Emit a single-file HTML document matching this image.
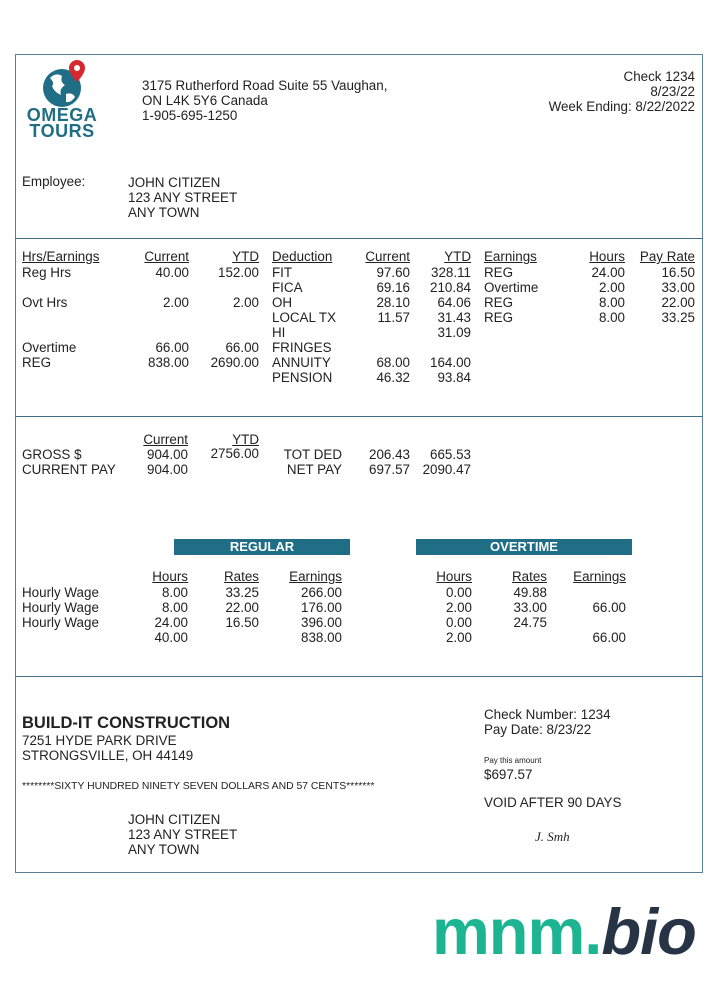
<!DOCTYPE html>
<html><head><meta charset="utf-8"><style>
body{margin:0;width:720px;height:1000px;background:#fff;position:relative;font-family:"Liberation Sans",sans-serif;font-size:13.4px;color:#222;overflow:hidden}
.t{position:absolute;white-space:nowrap;line-height:14px}
.r{transform:translateX(-100%)}
.u{text-decoration:underline}
.b{font-weight:bold}
.box{position:absolute;left:15px;top:54px;width:686px;height:817px;border:1.5px solid #5a7f95}
.hl{position:absolute;left:15px;width:688px;height:0;border-top:1.5px solid #3f6e86}
.bar{position:absolute;height:16px;background:#1f6e86;color:#fff;font-weight:bold;text-align:center;line-height:16px;font-size:13px}
</style></head><body>
<div class="box"></div>
<div class="hl" style="top:238px"></div>
<div class="hl" style="top:416px"></div>
<div class="hl" style="top:676px"></div>

<svg style="position:absolute;left:32px;top:58px" width="65" height="50">
<circle cx="30" cy="30" r="19" fill="#1f6e86"/>
<path d="M18 20 q6-6 12-2 q-2 6 3 9 q-6 4-4 10 q-7-3-9-9 q3-3-2-8z M34 36 q6-2 9 3 q-4 6-9 5z" fill="#fff"/>
<path d="M45 2 a8 8 0 0 1 8 8 c0 6-8 14-8 14 s-8-8-8-14 a8 8 0 0 1 8-8z" fill="#d6282f"/>
<circle cx="45" cy="10" r="3" fill="#fff"/>
</svg>
<div class="t b" style="left:22px;top:107px;font-size:18px;color:#1f6e86;line-height:16px;text-align:center;width:80px;letter-spacing:0.5px">OMEGA<br>TOURS</div>

<div class="t" style="left:142px;top:78px;line-height:15px">3175 Rutherford Road Suite 55 Vaughan,<br>ON L4K 5Y6 Canada<br>1-905-695-1250</div>
<div class="t" style="left:500px;top:69px;width:195px;text-align:right;line-height:15px">Check 1234<br>8/23/22<br>Week Ending: 8/22/2022</div>

<div class="t" style="left:22px;top:175px">Employee:</div>
<div class="t" style="left:128px;top:175px;line-height:15px">JOHN CITIZEN<br>123 ANY STREET<br>ANY TOWN</div>

<div class="t u" style="left:22px;top:250px">Hrs/Earnings</div>
<div class="t u r" style="left:189px;top:250px">Current</div>
<div class="t u r" style="left:259px;top:250px">YTD</div>
<div class="t u" style="left:272px;top:250px">Deduction</div>
<div class="t u r" style="left:410px;top:250px">Current</div>
<div class="t u r" style="left:471px;top:250px">YTD</div>
<div class="t u" style="left:484px;top:250px">Earnings</div>
<div class="t u r" style="left:625px;top:250px">Hours</div>
<div class="t u r" style="left:695px;top:250px">Pay Rate</div>

<div class="t" style="left:22px;top:265px;line-height:15px">Reg Hrs<br><br>Ovt Hrs<br><br><br>Overtime<br>REG</div>
<div class="t" style="left:109px;top:265px;line-height:15px;width:80px;text-align:right">40.00<br><br>2.00<br><br><br>66.00<br>838.00</div>
<div class="t" style="left:179px;top:265px;line-height:15px;width:80px;text-align:right">152.00<br><br>2.00<br><br><br>66.00<br>2690.00</div>
<div class="t" style="left:272px;top:265px;line-height:15px">FIT<br>FICA<br>OH<br>LOCAL TX<br>HI<br>FRINGES<br>ANNUITY<br>PENSION</div>
<div class="t" style="left:330px;top:265px;line-height:15px;width:80px;text-align:right">97.60<br>69.16<br>28.10<br>11.57<br><br><br>68.00<br>46.32</div>
<div class="t" style="left:391px;top:265px;line-height:15px;width:80px;text-align:right">328.11<br>210.84<br>64.06<br>31.43<br>31.09<br><br>164.00<br>93.84</div>
<div class="t" style="left:484px;top:265px;line-height:15px">REG<br>Overtime<br>REG<br>REG</div>
<div class="t" style="left:545px;top:265px;line-height:15px;width:80px;text-align:right">24.00<br>2.00<br>8.00<br>8.00</div>
<div class="t" style="left:615px;top:265px;line-height:15px;width:80px;text-align:right">16.50<br>33.00<br>22.00<br>33.25</div>

<div class="t u r" style="left:188px;top:433px">Current</div>
<div class="t u r" style="left:259px;top:433px">YTD</div>
<div class="t" style="left:22px;top:447px;line-height:15px">GROSS $<br>CURRENT PAY</div>
<div class="t" style="left:108px;top:447px;line-height:15px;width:80px;text-align:right">904.00<br>904.00</div>
<div class="t r" style="left:259px;top:447px">2756.00</div>
<div class="t" style="left:242px;top:447px;line-height:15px;width:100px;text-align:right">TOT DED<br>NET PAY</div>
<div class="t" style="left:330px;top:447px;line-height:15px;width:80px;text-align:right">206.43<br>697.57</div>
<div class="t" style="left:391px;top:447px;line-height:15px;width:80px;text-align:right">665.53<br>2090.47</div>

<div class="bar" style="left:174px;top:539px;width:176px">REGULAR</div>
<div class="bar" style="left:416px;top:539px;width:216px">OVERTIME</div>

<div class="t u r" style="left:188px;top:570px">Hours</div>
<div class="t u r" style="left:259px;top:570px">Rates</div>
<div class="t u r" style="left:342px;top:570px">Earnings</div>
<div class="t u r" style="left:472px;top:570px">Hours</div>
<div class="t u r" style="left:547px;top:570px">Rates</div>
<div class="t u r" style="left:626px;top:570px">Earnings</div>
<div class="t" style="left:22px;top:585px;line-height:15px">Hourly Wage<br>Hourly Wage<br>Hourly Wage</div>
<div class="t" style="left:108px;top:585px;line-height:15px;width:80px;text-align:right">8.00<br>8.00<br>24.00<br>40.00</div>
<div class="t" style="left:179px;top:585px;line-height:15px;width:80px;text-align:right">33.25<br>22.00<br>16.50</div>
<div class="t" style="left:242px;top:585px;line-height:15px;width:100px;text-align:right">266.00<br>176.00<br>396.00<br>838.00</div>
<div class="t" style="left:392px;top:585px;line-height:15px;width:80px;text-align:right">0.00<br>2.00<br>0.00<br>2.00</div>
<div class="t" style="left:467px;top:585px;line-height:15px;width:80px;text-align:right">49.88<br>33.00<br>24.75</div>
<div class="t" style="left:526px;top:585px;line-height:15px;width:100px;text-align:right">&nbsp;<br>66.00<br><br>66.00</div>

<div class="t b" style="left:22px;top:714px;font-size:16.5px;line-height:18px">BUILD-IT CONSTRUCTION</div>
<div class="t" style="left:22px;top:733px;line-height:15px">7251 HYDE PARK DRIVE<br>STRONGSVILLE, OH 44149</div>
<div class="t" style="left:22px;top:781px;font-size:10.4px;line-height:12px">********SIXTY HUNDRED NINETY SEVEN DOLLARS AND 57 CENTS*******</div>
<div class="t" style="left:128px;top:812px;line-height:15px">JOHN CITIZEN<br>123 ANY STREET<br>ANY TOWN</div>
<div class="t" style="left:484px;top:707px;line-height:15px">Check Number: 1234<br>Pay Date: 8/23/22</div>
<div class="t" style="left:484px;top:756px;font-size:8px;line-height:9px">Pay this amount</div>
<div class="t" style="left:484px;top:768px">$697.57</div>
<div class="t" style="left:484px;top:796px">VOID AFTER 90 DAYS</div>
<div class="t" style="left:535px;top:830px;font-family:'Liberation Serif',serif;font-style:italic;font-size:13px">J. Smh</div>

<div class="t b" style="left:432px;top:896px;font-size:65px;line-height:72px;letter-spacing:-1px"><span style="color:#1db591">mnm.</span><span style="color:#263445;font-style:italic">bio</span></div>
</body></html>
